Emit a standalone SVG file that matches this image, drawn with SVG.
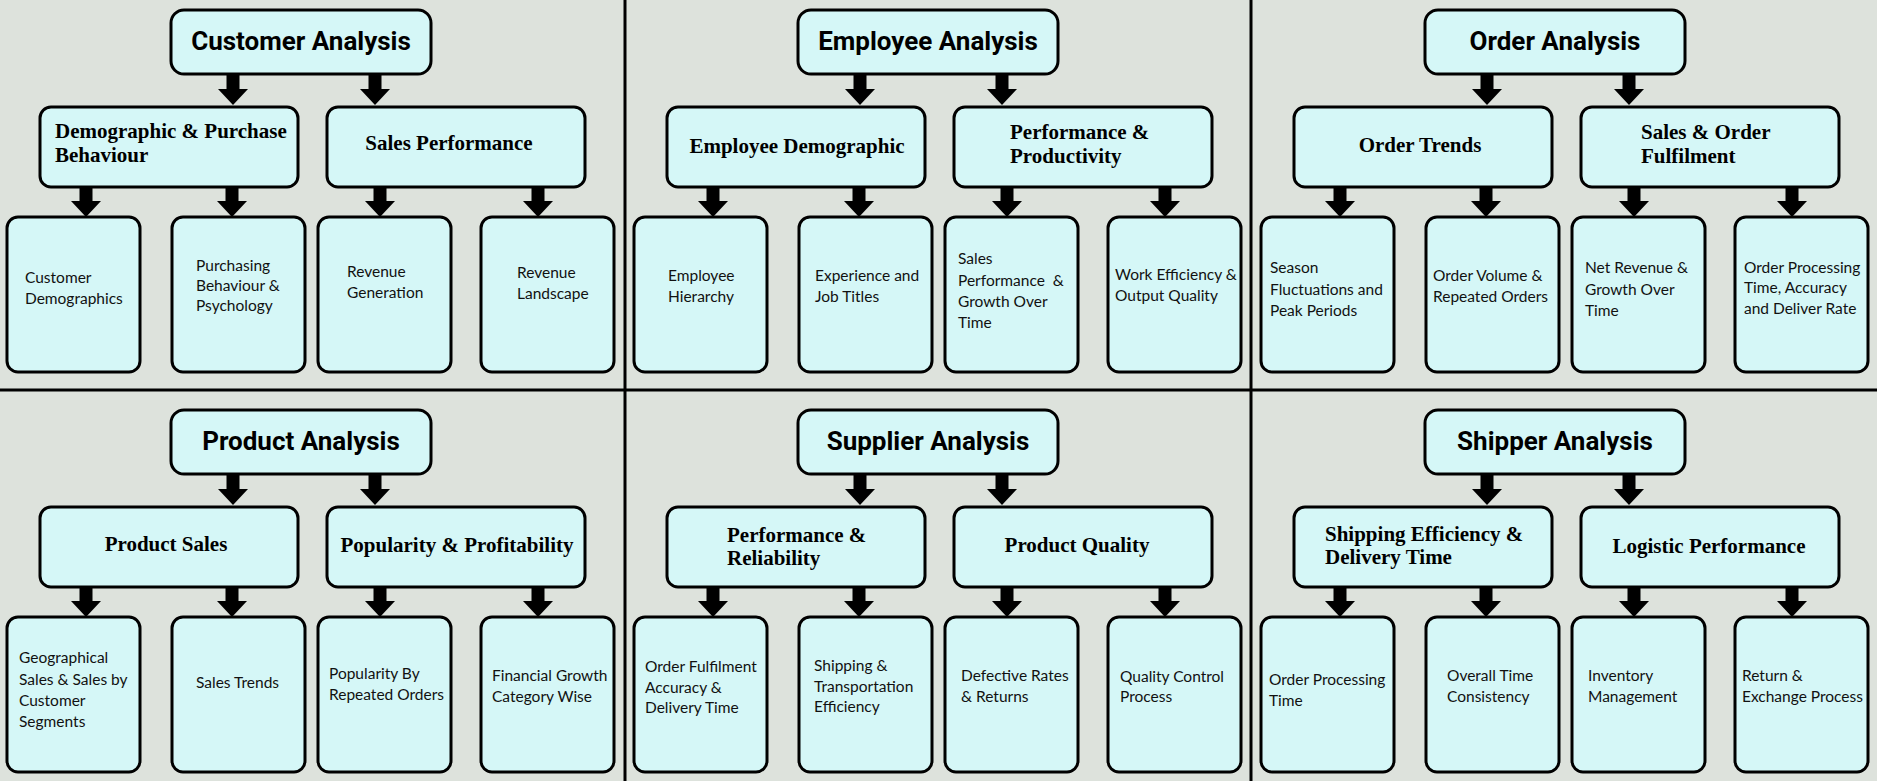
<svg xmlns="http://www.w3.org/2000/svg" xmlns:xlink="http://www.w3.org/1999/xlink" width="1877" height="781" viewBox="0 0 1877 781">
<style>
.bg{fill:#dde2dc}
.box{fill:#d5f7f7;stroke:#000;stroke-width:3}
.div{stroke:#000;stroke-width:3}
.title{font-family:Roboto,"Liberation Sans",sans-serif;font-weight:700;font-size:26px;fill:#000;text-anchor:middle}
.mid{font-family:"Liberation Serif","DejaVu Serif",serif;font-weight:700;font-size:21px;fill:#000}
.c{text-anchor:middle}
.leaf{font-family:Lato,"Liberation Sans",sans-serif;font-size:15.5px;fill:#111}
.arr{fill:#000}
</style>
<defs>
<path id="arrow" class="arr" d="M-6.5,0 h13 v14 h8.5 l-15,16 l-15,-16 h8.5 z"/>
</defs>
<rect class="bg" x="0" y="0" width="1877" height="781"/>
<g id="dividers">
<line class="div" x1="625" y1="0" x2="625" y2="781"/>
<line class="div" x1="1251" y1="0" x2="1251" y2="781"/>
<line class="div" x1="0" y1="390" x2="1877" y2="390"/>
</g>

<!-- Customer panel -->
<g id="customer-analysis"><rect class="box" x="171" y="10" width="260" height="64" rx="13"/><text class="title" x="301" y="50">Customer Analysis</text></g>
<g id="demographic-purchase"><rect class="box" x="40" y="107" width="258" height="80" rx="11"/><text class="mid" x="55" y="138">Demographic &amp; Purchase</text><text class="mid" x="55" y="162">Behaviour</text></g>
<g id="sales-performance"><rect class="box" x="327" y="107" width="258" height="80" rx="11"/><text class="mid c" x="449" y="150">Sales Performance</text></g>
<g id="customer-demographics"><rect class="box" x="7" y="217" width="133" height="155" rx="11"/><text class="leaf" x="25" y="283">Customer</text><text class="leaf" x="25" y="304">Demographics</text></g>
<g id="purchasing-behaviour"><rect class="box" x="172" y="217" width="133" height="155" rx="11"/><text class="leaf" x="196" y="271">Purchasing</text><text class="leaf" x="196" y="291">Behaviour &amp;</text><text class="leaf" x="196" y="311">Psychology</text></g>
<g id="revenue-generation"><rect class="box" x="318" y="217" width="133" height="155" rx="11"/><text class="leaf" x="347" y="277">Revenue</text><text class="leaf" x="347" y="298">Generation</text></g>
<g id="revenue-landscape"><rect class="box" x="481" y="217" width="133" height="155" rx="11"/><text class="leaf" x="517" y="278">Revenue</text><text class="leaf" x="517" y="299">Landscape</text></g>

<!-- Employee panel -->
<g id="employee-analysis"><rect class="box" x="798" y="10" width="260" height="64" rx="13"/><text class="title" x="928" y="50">Employee Analysis</text></g>
<g id="employee-demographic"><rect class="box" x="667" y="107" width="258" height="80" rx="11"/><text class="mid c" x="797" y="153">Employee Demographic</text></g>
<g id="performance-productivity"><rect class="box" x="954" y="107" width="258" height="80" rx="11"/><text class="mid" x="1010" y="139">Performance &amp;</text><text class="mid" x="1010" y="163">Productivity</text></g>
<g id="employee-hierarchy"><rect class="box" x="634" y="217" width="133" height="155" rx="11"/><text class="leaf" x="668" y="281">Employee</text><text class="leaf" x="668" y="302">Hierarchy</text></g>
<g id="experience-job-titles"><rect class="box" x="799" y="217" width="133" height="155" rx="11"/><text class="leaf" x="815" y="281">Experience and</text><text class="leaf" x="815" y="302">Job Titles</text></g>
<g id="sales-performance-growth"><rect class="box" x="945" y="217" width="133" height="155" rx="11"/><text class="leaf" x="958" y="264">Sales</text><text class="leaf" x="958" y="286" xml:space="preserve">Performance  &amp;</text><text class="leaf" x="958" y="307">Growth Over</text><text class="leaf" x="958" y="328">Time</text></g>
<g id="work-efficiency"><rect class="box" x="1108" y="217" width="133" height="155" rx="11"/><text class="leaf" x="1115" y="280">Work Efficiency &amp;</text><text class="leaf" x="1115" y="301">Output Quality</text></g>

<!-- Order panel -->
<g id="order-analysis"><rect class="box" x="1425" y="10" width="260" height="64" rx="13"/><text class="title" x="1555" y="50">Order Analysis</text></g>
<g id="order-trends"><rect class="box" x="1294" y="107" width="258" height="80" rx="11"/><text class="mid c" x="1420" y="152">Order Trends</text></g>
<g id="sales-order-fulfilment"><rect class="box" x="1581" y="107" width="258" height="80" rx="11"/><text class="mid" x="1641" y="139">Sales &amp; Order</text><text class="mid" x="1641" y="163">Fulfilment</text></g>
<g id="season-fluctuations"><rect class="box" x="1261" y="217" width="133" height="155" rx="11"/><text class="leaf" x="1270" y="273">Season</text><text class="leaf" x="1270" y="295">Fluctuations and</text><text class="leaf" x="1270" y="316">Peak Periods</text></g>
<g id="order-volume"><rect class="box" x="1426" y="217" width="133" height="155" rx="11"/><text class="leaf" x="1433" y="281">Order Volume &amp;</text><text class="leaf" x="1433" y="302">Repeated Orders</text></g>
<g id="net-revenue"><rect class="box" x="1572" y="217" width="133" height="155" rx="11"/><text class="leaf" x="1585" y="273">Net Revenue &amp;</text><text class="leaf" x="1585" y="295">Growth Over</text><text class="leaf" x="1585" y="316">Time</text></g>
<g id="order-processing-accuracy"><rect class="box" x="1735" y="217" width="133" height="155" rx="11"/><text class="leaf" x="1744" y="273">Order Processing</text><text class="leaf" x="1744" y="293">Time, Accuracy</text><text class="leaf" x="1744" y="314">and Deliver Rate</text></g>

<!-- Product panel -->
<g id="product-analysis"><rect class="box" x="171" y="410" width="260" height="64" rx="13"/><text class="title" x="301" y="450">Product Analysis</text></g>
<g id="product-sales"><rect class="box" x="40" y="507" width="258" height="80" rx="11"/><text class="mid c" x="166" y="551">Product Sales</text></g>
<g id="popularity-profitability"><rect class="box" x="327" y="507" width="258" height="80" rx="11"/><text class="mid c" x="457" y="552">Popularity &amp; Profitability</text></g>
<g id="geographical-sales"><rect class="box" x="7" y="617" width="133" height="155" rx="11"/><text class="leaf" x="19" y="663">Geographical</text><text class="leaf" x="19" y="685">Sales &amp; Sales by</text><text class="leaf" x="19" y="706">Customer</text><text class="leaf" x="19" y="727">Segments</text></g>
<g id="sales-trends"><rect class="box" x="172" y="617" width="133" height="155" rx="11"/><text class="leaf" x="196" y="688">Sales Trends</text></g>
<g id="popularity-repeated"><rect class="box" x="318" y="617" width="133" height="155" rx="11"/><text class="leaf" x="329" y="679">Popularity By</text><text class="leaf" x="329" y="700">Repeated Orders</text></g>
<g id="financial-growth"><rect class="box" x="481" y="617" width="133" height="155" rx="11"/><text class="leaf" x="492" y="681">Financial Growth</text><text class="leaf" x="492" y="702">Category Wise</text></g>

<!-- Supplier panel -->
<g id="supplier-analysis"><rect class="box" x="798" y="410" width="260" height="64" rx="13"/><text class="title" x="928" y="450">Supplier Analysis</text></g>
<g id="performance-reliability"><rect class="box" x="667" y="507" width="258" height="80" rx="11"/><text class="mid" x="727" y="542">Performance &amp;</text><text class="mid" x="727" y="565">Reliability</text></g>
<g id="product-quality"><rect class="box" x="954" y="507" width="258" height="80" rx="11"/><text class="mid c" x="1077" y="552">Product Quality</text></g>
<g id="order-fulfilment"><rect class="box" x="634" y="617" width="133" height="155" rx="11"/><text class="leaf" x="645" y="672">Order Fulfilment</text><text class="leaf" x="645" y="693">Accuracy &amp;</text><text class="leaf" x="645" y="713">Delivery Time</text></g>
<g id="shipping-transportation"><rect class="box" x="799" y="617" width="133" height="155" rx="11"/><text class="leaf" x="814" y="671">Shipping &amp;</text><text class="leaf" x="814" y="692">Transportation</text><text class="leaf" x="814" y="712">Efficiency</text></g>
<g id="defective-rates"><rect class="box" x="945" y="617" width="133" height="155" rx="11"/><text class="leaf" x="961" y="681">Defective Rates</text><text class="leaf" x="961" y="702">&amp; Returns</text></g>
<g id="quality-control"><rect class="box" x="1108" y="617" width="133" height="155" rx="11"/><text class="leaf" x="1120" y="682">Quality Control</text><text class="leaf" x="1120" y="702">Process</text></g>

<!-- Shipper panel -->
<g id="shipper-analysis"><rect class="box" x="1425" y="410" width="260" height="64" rx="13"/><text class="title" x="1555" y="450">Shipper Analysis</text></g>
<g id="shipping-efficiency"><rect class="box" x="1294" y="507" width="258" height="80" rx="11"/><text class="mid" x="1325" y="541">Shipping Efficiency &amp;</text><text class="mid" x="1325" y="564">Delivery Time</text></g>
<g id="logistic-performance"><rect class="box" x="1581" y="507" width="258" height="80" rx="11"/><text class="mid c" x="1709" y="553">Logistic Performance</text></g>
<g id="order-processing-time"><rect class="box" x="1261" y="617" width="133" height="155" rx="11"/><text class="leaf" x="1269" y="685">Order Processing</text><text class="leaf" x="1269" y="706">Time</text></g>
<g id="overall-time"><rect class="box" x="1426" y="617" width="133" height="155" rx="11"/><text class="leaf" x="1447" y="681">Overall Time</text><text class="leaf" x="1447" y="702">Consistency</text></g>
<g id="inventory-management"><rect class="box" x="1572" y="617" width="133" height="155" rx="11"/><text class="leaf" x="1588" y="681">Inventory</text><text class="leaf" x="1588" y="702">Management</text></g>
<g id="return-exchange"><rect class="box" x="1735" y="617" width="133" height="155" rx="11"/><text class="leaf" x="1742" y="681">Return &amp;</text><text class="leaf" x="1742" y="702">Exchange Process</text></g>

<g id="connectors">
<use href="#arrow" x="233" y="75"/><use href="#arrow" x="375" y="75"/>
<use href="#arrow" x="86" y="187"/><use href="#arrow" x="232" y="187"/><use href="#arrow" x="380" y="187"/><use href="#arrow" x="538" y="187"/>
<use href="#arrow" x="860" y="75"/><use href="#arrow" x="1002" y="75"/>
<use href="#arrow" x="713" y="187"/><use href="#arrow" x="859" y="187"/><use href="#arrow" x="1007" y="187"/><use href="#arrow" x="1165" y="187"/>
<use href="#arrow" x="1487" y="75"/><use href="#arrow" x="1629" y="75"/>
<use href="#arrow" x="1340" y="187"/><use href="#arrow" x="1486" y="187"/><use href="#arrow" x="1634" y="187"/><use href="#arrow" x="1792" y="187"/>
<use href="#arrow" x="233" y="475"/><use href="#arrow" x="375" y="475"/>
<use href="#arrow" x="86" y="587"/><use href="#arrow" x="232" y="587"/><use href="#arrow" x="380" y="587"/><use href="#arrow" x="538" y="587"/>
<use href="#arrow" x="860" y="475"/><use href="#arrow" x="1002" y="475"/>
<use href="#arrow" x="713" y="587"/><use href="#arrow" x="859" y="587"/><use href="#arrow" x="1007" y="587"/><use href="#arrow" x="1165" y="587"/>
<use href="#arrow" x="1487" y="475"/><use href="#arrow" x="1629" y="475"/>
<use href="#arrow" x="1340" y="587"/><use href="#arrow" x="1486" y="587"/><use href="#arrow" x="1634" y="587"/><use href="#arrow" x="1792" y="587"/>
</g>
</svg>
